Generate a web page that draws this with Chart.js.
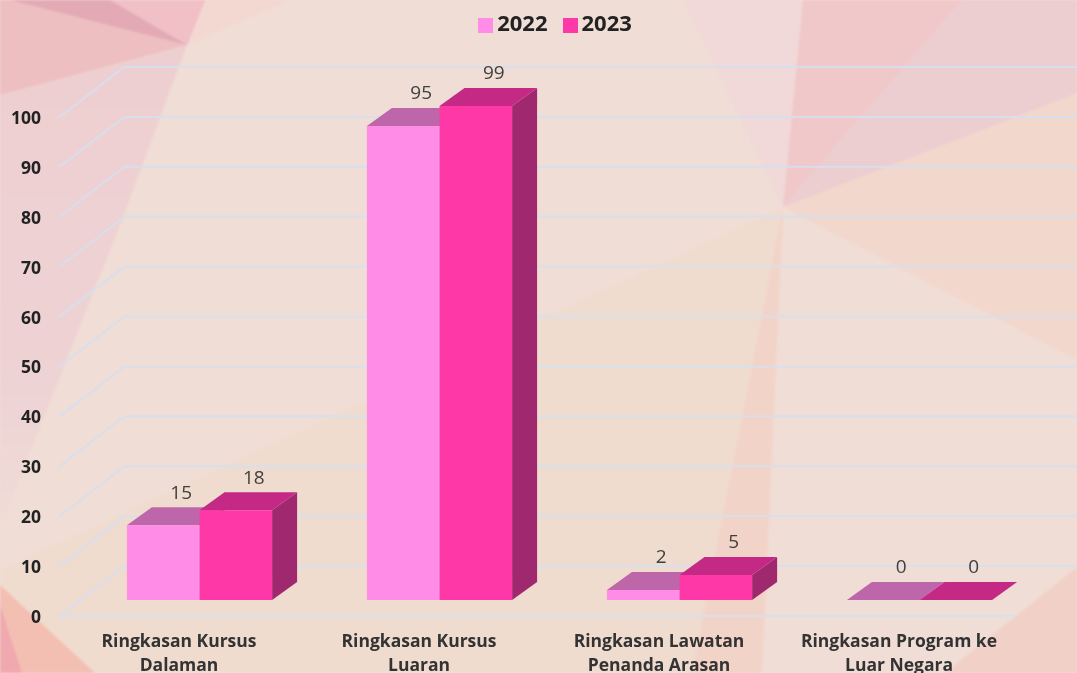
<!DOCTYPE html>
<html>
<head>
<meta charset="utf-8">
<style>
html,body{margin:0;padding:0;width:1077px;height:673px;overflow:hidden;background:#F0DDD4}
#bg{position:absolute;left:0;top:0;filter:blur(0.8px)}
#c{position:absolute;left:0;top:0}
</style>
<script src="https://cdn.jsdelivr.net/npm/chart.js@4"></script>
</head>
<body>
<svg id="bg" width="1077" height="673" viewBox="0 0 1077 673">
  <defs>
    <linearGradient id="band" x1="0" y1="0" x2="0" y2="1">
      <stop offset="0" stop-color="#EECFD1"/>
      <stop offset="0.7" stop-color="#EED3D4"/>
      <stop offset="1" stop-color="#F0DCD7"/>
    </linearGradient>
  </defs>
  <rect x="-5" y="-5" width="1087" height="683" fill="#F0DDD5"/>
  <polygon points="783,207 0,570 0,673 700,673" fill="#F1DBCB" opacity=".55"/>
  <polygon points="783,207 1077,360 1077,93" fill="#F2D7CC"/>
  <polygon points="683,0 803,0 783,207" fill="#F0D9D8"/>
  <polygon points="803,0 962,0 783,207" fill="#F1C8C9"/>
  <polygon points="962,0 1077,0 1077,93 783,207" fill="#ECCDD0"/>
  <polygon points="783,207 762,673 692,673" fill="#F2D3C8"/>
  <polygon points="1077,567 1077,673 945,673" fill="#F1D1C7"/>
  <polygon points="0,95 187,45 120,225 27,460 0,530" fill="url(#band)"/>
  <polygon points="0,0 290,0 187,45" fill="#F3D8D2"/>
  <polygon points="0,0 205,0 187,45 0,95" fill="#EEBFC0"/>
  <polygon points="110,0 205,0 187,45" fill="#F1C0C6"/>
  <polygon points="10,0 110,0 187,45" fill="#E3AAB6"/>
  <polygon points="0,585 95,673 0,673" fill="#F3BFB3"/>
  <polygon points="0,605 22,673 0,673" fill="#F0A9AE"/>
</svg>
<canvas id="c" width="1077" height="673"></canvas>
<script>
const categories = [
  ['Ringkasan Kursus', 'Dalaman'],
  ['Ringkasan Kursus', 'Luaran'],
  ['Ringkasan Lawatan', 'Penanda Arasan'],
  ['Ringkasan Program ke', 'Luar Negara']
];
const seriesNames = ['2022', '2023'];
const values2022 = [15, 95, 2, 0];
const values2023 = [18, 99, 5, 0];
const yTickValues = [0, 10, 20, 30, 40, 50, 60, 70, 80, 90, 100];

const frontColors = ['#FF8CE6', '#FF38A8'];
const topColors   = ['#BE66AA', '#C42A85'];
const sideColors  = ['#A8307F', '#A0286F'];
const GRID = 'rgba(214,222,238,0.95)';

/* depth geometry of the pseudo-3D look */
const barDepth = {dx: 25, dy: -18};
const floorFront = {dx: -20, dy: 16};   // front plane relative to the bar plane
const floorBack  = {dx: 45, dy: -34};   // back plane relative to the bar plane

const depthPlugin = {
  id: 'depth',
  beforeInit(chart) {
    const legend = chart.legend, fit = legend.fit;
    legend.fit = function () { fit.call(legend); legend.height = 103; };
  },
  afterLayout(chart) {
    chart.legend.left -= 4;
    chart.legend.right -= 4;
  },
  beforeDatasetsDraw(chart) {
    const {ctx, scales: {x, y}} = chart;
    ctx.save();
    ctx.strokeStyle = GRID;
    ctx.lineWidth = 2;
    yTickValues.forEach(v => {
      const py = y.getPixelForValue(v);
      const fx = x.left + floorFront.dx, fy = py + floorFront.dy;
      const bx = x.left + floorBack.dx, by = py + floorBack.dy;
      ctx.beginPath();
      ctx.moveTo(fx, fy);
      ctx.lineTo(bx, by);
      ctx.lineTo(chart.width, by);
      ctx.stroke();
      if (v === 0) {
        ctx.beginPath();
        ctx.moveTo(fx, fy);
        ctx.lineTo(x.right + floorFront.dx - 3, fy);
        ctx.stroke();
      }
    });
    chart.data.datasets.forEach((ds, di) => {
      chart.getDatasetMeta(di).data.forEach(bar => {
        const l = bar.x - bar.width / 2, r = bar.x + bar.width / 2;
        const t = bar.y, b = bar.base;
        ctx.fillStyle = sideColors[di];
        ctx.beginPath();
        ctx.moveTo(r, t);
        ctx.lineTo(r + barDepth.dx, t + barDepth.dy);
        ctx.lineTo(r + barDepth.dx, b + barDepth.dy);
        ctx.lineTo(r, b);
        ctx.closePath();
        ctx.fill();
        ctx.fillStyle = topColors[di];
        ctx.beginPath();
        ctx.moveTo(l, t);
        ctx.lineTo(l + barDepth.dx, t + barDepth.dy);
        ctx.lineTo(r + barDepth.dx, t + barDepth.dy);
        ctx.lineTo(r, t);
        ctx.closePath();
        ctx.fill();
      });
    });
    ctx.restore();
  },
  afterDatasetsDraw(chart) {
    const {ctx} = chart;
    ctx.save();
    ctx.font = '19px "Open Sans", sans-serif';
    ctx.fillStyle = '#404040';
    ctx.textAlign = 'center';
    ctx.textBaseline = 'middle';
    chart.data.datasets.forEach((ds, di) => {
      chart.getDatasetMeta(di).data.forEach((bar, i) => {
        ctx.fillText(String(ds.data[i]), bar.x + 18, bar.y + barDepth.dy - 14);
      });
    });
    ctx.restore();
  },
  afterDraw(chart) {
    const {ctx, legend} = chart;
    ctx.save();
    legend.legendHitBoxes.forEach((box, i) => {
      ctx.fillStyle = frontColors[i];
      ctx.fillRect(Math.round(box.left) - 1, Math.round(box.top + box.height / 2) - 7, 15, 15);
    });
    ctx.restore();
  }
};

new Chart(document.getElementById('c'), {
  type: 'bar',
  data: {
    labels: categories,
    datasets: [
      {label: seriesNames[0], data: values2022, backgroundColor: frontColors[0], borderWidth: 0},
      {label: seriesNames[1], data: values2023, backgroundColor: frontColors[1], borderWidth: 0}
    ]
  },
  plugins: [depthPlugin],
  options: {
    responsive: false,
    devicePixelRatio: 1,
    animation: false,
    layout: {padding: {top: -2, right: 37.5, bottom: 0, left: 0}},
    datasets: {bar: {categoryPercentage: 0.605, barPercentage: 1}},
    plugins: {
      tooltip: {enabled: false},
      legend: {
        display: true,
        position: 'top',
        fullSize: false,
        labels: {
          boxWidth: 7,
          boxHeight: 7,
          padding: 16,
          color: '#222222',
          font: {family: '"Open Sans", sans-serif', size: 22, weight: 'bold'}
        }
      }
    },
    scales: {
      x: {
        grid: {display: false, drawTicks: false},
        border: {display: false},
        afterFit(s) { s.height = 73; },
        ticks: {
          autoSkip: false,
          maxRotation: 0,
          labelOffset: -20.5,
          padding: 30,
          color: '#333333',
          font: {family: '"Open Sans", sans-serif', size: 17.5, weight: 'bold', lineHeight: 1.37}
        }
      },
      y: {
        min: 0,
        max: 100,
        grid: {display: false, drawTicks: false},
        border: {display: false},
        afterFit(s) { s.width = 79.5; },
        afterBuildTicks(s) { s.ticks = yTickValues.map(v => ({value: v})); },
        ticks: {
          padding: 38.5,
          labelOffset: 18,
          color: '#222222',
          font: {family: '"Open Sans", sans-serif', size: 17.5, weight: 'bold'}
        }
      }
    }
  }
});
</script>
</body>
</html>
